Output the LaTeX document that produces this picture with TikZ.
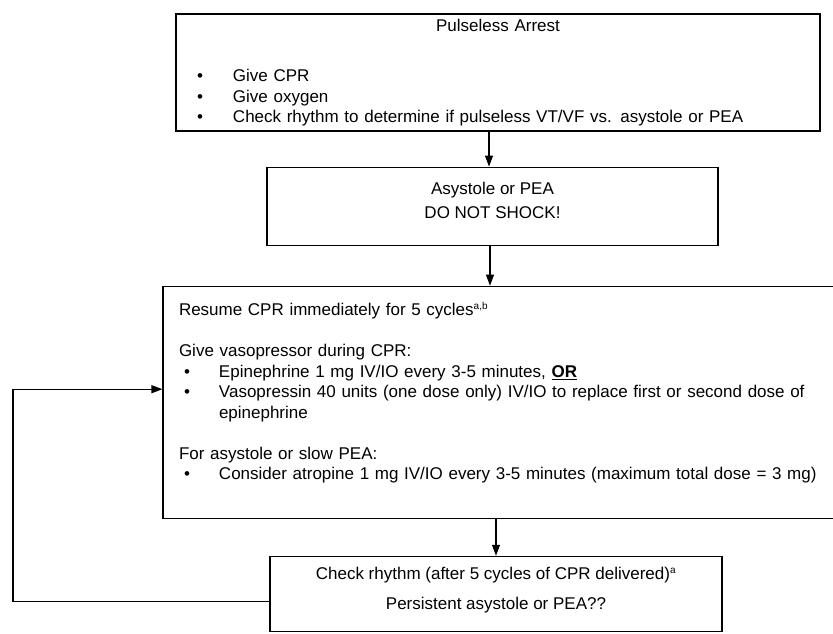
\documentclass[tikz,border=0pt]{standalone}
\usepackage{fontspec}
\setmainfont{Liberation Sans}
\usetikzlibrary{positioning, arrows.meta}
\newcommand{\bul}{\hspace*{3pt}\makebox[36pt][l]{\textbullet}}
\newcommand{\subul}{\hspace*{5pt}\makebox[35pt][l]{\textbullet}}
\newcommand{\supnote}[1]{\textsuperscript{\fontsize{10}{10}\selectfont #1}}

\begin{document}
\begin{tikzpicture}[x=1pt, y=-1pt, node distance=37pt,
  every node/.style={rectangle, draw, line width=1.1pt, inner sep=0pt, font=\fontsize{17}{20.5}\selectfont},
  arr/.style={-{Triangle[length=11pt,width=8pt]}, line width=1.1pt}]
    \useasboundingbox (0,0) rectangle (833,633);
    \node[minimum width=644pt, minimum height=117pt, text width=608pt, align=left] at (498,72.5) (arrest) {{\centering Pulseless Arrest\par}\vspace{30pt}
      \bul Give CPR\\ \bul Give oxygen\\ \bul Check rhythm to determine if pulseless VT/VF vs. asystole or PEA};
    \node[minimum width=451pt, minimum height=78pt, align=center, below=35pt of arrest, xshift=-5.5pt] (asystole) {Asystole or PEA\\[3.5pt] DO NOT SHOCK!\\[-8.5pt]\mbox{}};
    \node[minimum width=682pt, minimum height=232pt, text width=650pt, align=left, below=40pt of asystole, xshift=11.5pt] (resume) {Resume CPR immediately for 5 cycles\supnote{a,b}\\[20.5pt]
      Give vasopressor during CPR:\\
      \subul Epinephrine 1 mg IV/IO every 3-5 minutes, \underline{\textbf{OR}}\\
      \subul Vasopressin 40 units (one dose only) IV/IO to replace first or second dose of\\
      \hspace*{40pt}epinephrine\\[20.5pt]
      For asystole or slow PEA:\\
      \subul Consider atropine 1 mg IV/IO every 3-5 minutes (maximum total dose = 3 mg)\\[1.5pt]\mbox{}};
    \node[minimum width=452pt, minimum height=75pt, align=center, below=37pt of resume, xshift=-8pt] (check) {Check rhythm (after 5 cycles of CPR delivered)\supnote{a}\\[9.5pt] Persistent asystole or PEA??\\[-9.5pt]\mbox{}};
    \coordinate (loop) at (13,0);
    % Arrows
    \draw[arr] ([xshift=-9pt]arrest.south) -- ([xshift=-9pt]arrest.south |- asystole.north);
    \draw[arr] ([xshift=-2.5pt]asystole.south) -- ([xshift=-2.5pt]asystole.south |- resume.north);
    \draw[arr] (check.north |- resume.south) -- (check.north);
    \draw[arr] ([yshift=-7.5pt]check.west) -- ([yshift=-7.5pt]check.west -| loop) |- ([yshift=13pt]resume.west);
\end{tikzpicture}
\end{document}
